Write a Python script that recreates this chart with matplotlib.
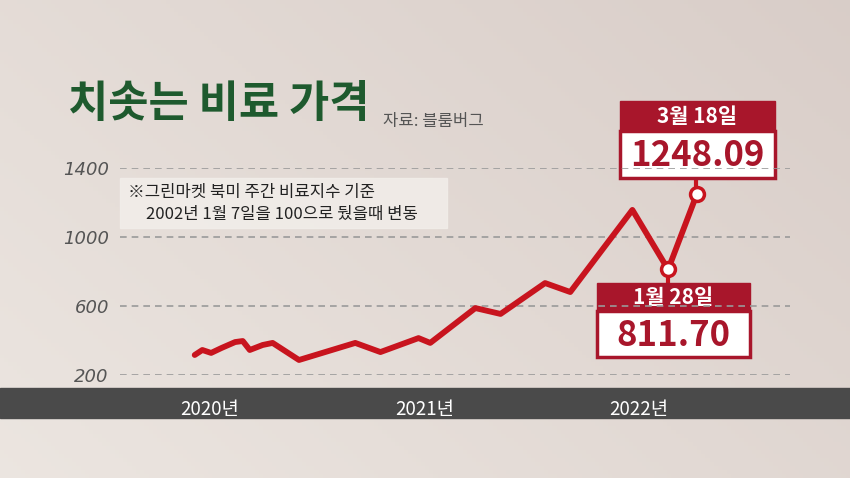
import matplotlib
matplotlib.use("Agg")
import matplotlib.pyplot as plt
import matplotlib.dates as mdates
import numpy as np
import pandas as pd

plt.rcParams['font.family'] = ['Noto Sans CJK KR', 'DejaVu Sans']

# data
dates = pd.to_datetime([
    "2019-11-12", "2019-11-25", "2019-12-10", "2019-12-28", "2020-01-20",
    "2020-02-02", "2020-02-14", "2020-03-07", "2020-03-24", "2020-05-08",
    "2020-08-12", "2020-09-24", "2020-11-28", "2020-12-18", "2021-03-05",
    "2021-04-17", "2021-07-02", "2021-08-14", "2021-11-28", "2022-01-28",
    "2022-03-18",
])
values = [316, 345, 328, 357, 391, 397, 345, 374, 386, 287,
          386, 333, 414, 386, 588, 554, 733, 681, 1157, 811.70, 1248.09]
yticks = [200, 600, 1000, 1400]
year_ticks = pd.to_datetime(["2019-12-08", "2020-12-08", "2021-12-08"])
year_labels = ["2020년", "2021년", "2022년"]

W, H = 850, 478
fig = plt.figure(figsize=(W / 100, H / 100), dpi=100)

# background gradient
bg = fig.add_axes([0, 0, 1, 1])
gx = np.linspace(0, 1, 200)
gy = np.linspace(0, 1, 120)
X, Y = np.meshgrid(gx, gy)
t = np.clip(0.6 * X + 0.4 * (1 - Y), 0, 1)
c0 = np.array([0.925, 0.900, 0.880])
c1 = np.array([0.850, 0.805, 0.785])
img = c0[None, None, :] * (1 - t[..., None]) + c1[None, None, :] * t[..., None]
bg.imshow(img, extent=[0, W, H, 0], aspect='auto')
bg.set_xlim(0, W)
bg.set_ylim(H, 0)
bg.axis('off')

# dark band with years
bg.add_patch(plt.Rectangle((0, 388), W, 30, color='#4a4a4a', zorder=1))

# chart axes
x0, x1 = 120, 790
ax = fig.add_axes([x0 / W, (H - 375) / H, (x1 - x0) / W, 207 / H])
ax.patch.set_alpha(0)
d0 = mdates.date2num(pd.Timestamp("2020-01-01"))
ax.set_xlim(d0 + (x0 - 224) / 214 * 365.25, d0 + (x1 - 224) / 214 * 365.25)
ax.set_ylim(200, 1400)
for s in ax.spines.values():
    s.set_visible(False)
for v in yticks:
    ax.axhline(v, color='#9a9a9a', lw=1.2, ls=(0, (4, 3)), zorder=1)
ax.set_yticks(yticks)
ax.set_yticklabels([str(v) for v in yticks], fontsize=13, style='italic', color='#555555',
                   family=['DejaVu Sans'])
ax.tick_params(axis='y', length=0, pad=8)
ax.set_xticks(year_ticks)
ax.set_xticklabels(year_labels, fontsize=13.5, color='white', fontweight='medium')
ax.tick_params(axis='x', length=0, pad=17)

red = '#c8141e'
ax.plot(dates, values, color=red, lw=4.2, solid_joinstyle='round', solid_capstyle='round', zorder=3)
ax.plot(dates[-2:], values[-2:], 'o', ms=10, mfc='white', mec=red, mew=2.5, zorder=5)

# callout boxes (pixel coords on bg)
def callout(xl, xr, ytop, ymid, ybot, head, val, px, py, ystart):
    bg.plot([px, px], [ystart, py], color=red, lw=3, zorder=2)
    bg.add_patch(plt.Rectangle((xl, ytop), xr - xl, ymid - ytop, color='#a8162b', zorder=3))
    bg.add_patch(plt.Rectangle((xl, ymid), xr - xl, ybot - ymid, fc='white', ec='#a8162b', lw=2.5, zorder=3))
    bg.text((xl + xr) / 2, (ytop + ymid) / 2, head, color='white', fontsize=15, fontweight='bold',
            ha='center', va='center', zorder=4)
    bg.text((xl + xr) / 2, (ymid + ybot) / 2 + 1, val, color='#a8162b', fontsize=25, fontweight='bold',
            ha='center', va='center', zorder=4)

callout(620, 775, 101, 131, 178, "3월 18일", "1248.09", 696, 194, 178)
callout(597, 750, 283, 311, 357, "1월 28일", "811.70", 668, 264, 283)

# note box
bg.add_patch(plt.Rectangle((120, 178), 327, 50, color='#f2eeea', alpha=0.85, zorder=2))
bg.text(128, 192, "※그린마켓 북미 주간 비료지수 기준", fontsize=12, color='#222222', va='center', zorder=3)
bg.text(146, 214, "2002년 1월 7일을 100으로 뒀을때 변동", fontsize=12, color='#222222', va='center', zorder=3)

# title
bg.text(68, 104, "치솟는 비료 가격", fontsize=31.5, fontweight='bold', color='#1e5a2e', va='center', zorder=3)
bg.text(383, 121, "자료: 블룸버그", fontsize=12, color='#555555', va='center', zorder=3)

fig.savefig("out.png", dpi=100)
